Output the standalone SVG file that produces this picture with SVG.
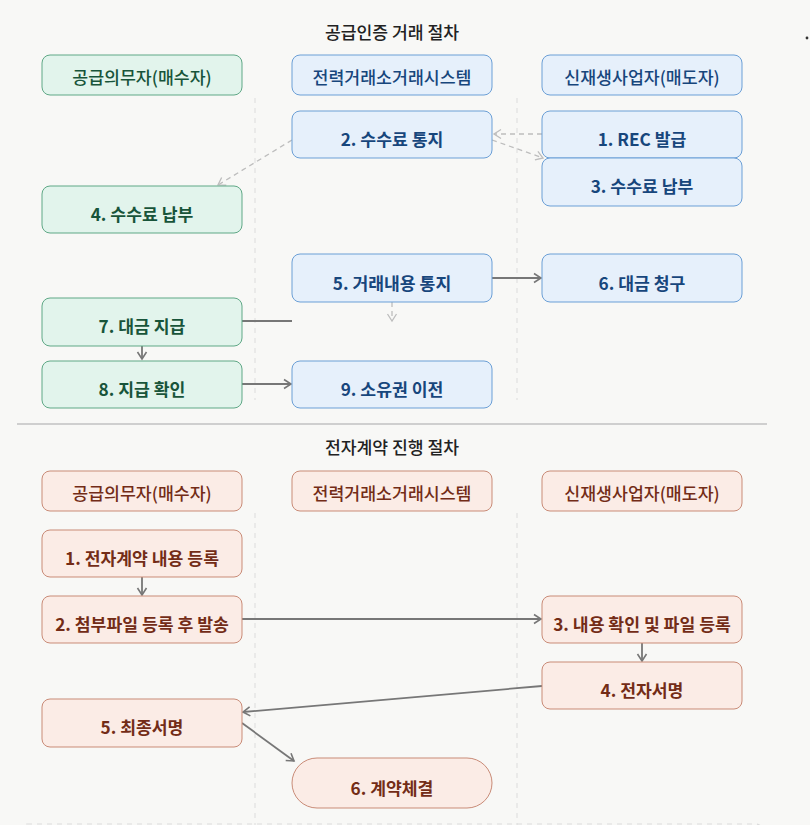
<svg xmlns="http://www.w3.org/2000/svg" width="810" height="825" viewBox="0 0 810 825">
<style>
text{font-family:"Noto Sans CJK KR","Noto Sans",sans-serif;text-anchor:middle}
.title{font-size:17.2px;font-weight:500;fill:#222}
.hd{font-size:17.3px;font-weight:500}
.lb{font-size:17.2px;font-weight:700}
.g rect{fill:#e2f4ec;stroke:#5fa886;stroke-width:1}
.g text{fill:#18543a}
.b rect{fill:#e6f0fb;stroke:#6b9fd6;stroke-width:1}
.b text{fill:#17467c}
.p rect{fill:#fbece6;stroke:#c98b77;stroke-width:1}
.p text{fill:#732c17}
.lane{stroke:#dcdcdc;stroke-width:1;stroke-dasharray:5 5;fill:none}
.sol{stroke:#777;stroke-width:1.8;fill:none}
.dsh{stroke:#bdbdbd;stroke-width:1.3;stroke-dasharray:5 4;fill:none}
</style>
<defs>
<marker id="ah" markerUnits="userSpaceOnUse" markerWidth="12" markerHeight="12" refX="9" refY="6" orient="auto">
<path d="M2,1.5 L9,6 L2,10.5" fill="none" stroke="#777" stroke-width="1.6"/>
</marker>
<marker id="ahd" markerUnits="userSpaceOnUse" markerWidth="12" markerHeight="12" refX="9" refY="6" orient="auto">
<path d="M2,1.5 L9,6 L2,10.5" fill="none" stroke="#bdbdbd" stroke-width="1.3"/>
</marker>
</defs>
<rect x="0" y="0" width="810" height="825" fill="#f8f8f6"/>
<circle cx="807" cy="38" r="1.4" fill="#333"/>

<g id="lanes">
<line class="lane" x1="255" y1="98" x2="255" y2="400"/>
<line class="lane" x1="517" y1="98" x2="517" y2="400"/>
<line class="lane" x1="255" y1="513" x2="255" y2="825"/>
<line class="lane" x1="517" y1="513" x2="517" y2="825"/>
<line x1="17" y1="424" x2="767" y2="424" stroke="#cfcfcf" stroke-width="2"/>
<rect x="21" y="824" width="741" height="40" rx="6" fill="none" stroke="#dcdcdc" stroke-width="1.2" stroke-dasharray="5 5"/>
</g>

<text class="title" x="392" y="39">공급인증 거래 절차</text>
<text class="title" x="392" y="454">전자계약 진행 절차</text>

<g id="connectors">
<line class="dsh" x1="542" y1="134" x2="494" y2="134" marker-end="url(#ahd)"/>
<line class="dsh" x1="492" y1="140" x2="543" y2="158" marker-end="url(#ahd)"/>
<line class="dsh" x1="292" y1="140" x2="218" y2="185" marker-end="url(#ahd)"/>
<line class="dsh" x1="392" y1="302" x2="392" y2="321" marker-end="url(#ahd)"/>
<line class="sol" x1="492" y1="278" x2="541" y2="278" marker-end="url(#ah)"/>
<line class="sol" x1="242" y1="321" x2="292" y2="321"/>
<line class="sol" x1="142" y1="346" x2="142" y2="359" marker-end="url(#ah)"/>
<line class="sol" x1="242" y1="384" x2="291" y2="384" marker-end="url(#ah)"/>
<line class="sol" x1="142" y1="577" x2="142" y2="595" marker-end="url(#ah)"/>
<line class="sol" x1="242" y1="619" x2="541" y2="619" marker-end="url(#ah)"/>
<line class="sol" x1="642" y1="643" x2="642" y2="661" marker-end="url(#ah)"/>
<line class="sol" x1="542" y1="686" x2="243" y2="712" marker-end="url(#ah)"/>
<line class="sol" x1="242" y1="723" x2="294" y2="761" marker-end="url(#ah)"/>
</g>

<g id="h-buyer-1" class="g"><rect x="42" y="55" width="200" height="40" rx="8"/><text class="hd" x="142" y="84">공급의무자(매수자)</text></g>
<g id="h-kpx-1" class="b"><rect x="292" y="55" width="200" height="40" rx="8"/><text class="hd" x="392" y="84">전력거래소거래시스템</text></g>
<g id="h-seller-1" class="b"><rect x="542" y="55" width="200" height="40" rx="8"/><text class="hd" x="642" y="84">신재생사업자(매도자)</text></g>

<g id="n2" class="b"><rect x="292" y="111" width="200" height="47" rx="8"/><text class="lb" x="392" y="146">2. 수수료 통지</text></g>
<g id="n1" class="b"><rect x="542" y="111" width="200" height="47" rx="8"/><text class="lb" x="642" y="146">1. REC 발급</text></g>
<g id="n3" class="b"><rect x="542" y="158" width="200" height="48" rx="8"/><text class="lb" x="642" y="193">3. 수수료 납부</text></g>
<g id="n4" class="g"><rect x="42" y="186" width="200" height="47" rx="8"/><text class="lb" x="142" y="221">4. 수수료 납부</text></g>
<g id="n5" class="b"><rect x="292" y="254" width="200" height="48" rx="8"/><text class="lb" x="392" y="290">5. 거래내용 통지</text></g>
<g id="n6" class="b"><rect x="542" y="254" width="200" height="48" rx="8"/><text class="lb" x="642" y="290">6. 대금 청구</text></g>
<g id="n7" class="g"><rect x="42" y="298" width="200" height="48" rx="8"/><text class="lb" x="142" y="333">7. 대금 지급</text></g>
<g id="n8" class="g"><rect x="42" y="361" width="200" height="47" rx="8"/><text class="lb" x="142" y="396">8. 지급 확인</text></g>
<g id="n9" class="b"><rect x="292" y="361" width="200" height="47" rx="8"/><text class="lb" x="392" y="396">9. 소유권 이전</text></g>

<g id="h-buyer-2" class="p"><rect x="42" y="471" width="200" height="40" rx="8"/><text class="hd" x="142" y="500">공급의무자(매수자)</text></g>
<g id="h-kpx-2" class="p"><rect x="292" y="471" width="200" height="40" rx="8"/><text class="hd" x="392" y="500">전력거래소거래시스템</text></g>
<g id="h-seller-2" class="p"><rect x="542" y="471" width="200" height="40" rx="8"/><text class="hd" x="642" y="500">신재생사업자(매도자)</text></g>

<g id="c1" class="p"><rect x="42" y="530" width="200" height="47" rx="8"/><text class="lb" x="142" y="565">1. 전자계약 내용 등록</text></g>
<g id="c2" class="p"><rect x="42" y="596" width="200" height="47" rx="8"/><text class="lb" x="142" y="631">2. 첨부파일 등록 후 발송</text></g>
<g id="c3" class="p"><rect x="542" y="596" width="200" height="47" rx="8"/><text class="lb" x="642" y="631">3. 내용 확인 및 파일 등록</text></g>
<g id="c4" class="p"><rect x="542" y="662" width="200" height="47" rx="8"/><text class="lb" x="642" y="697">4. 전자서명</text></g>
<g id="c5" class="p"><rect x="42" y="699" width="200" height="48" rx="8"/><text class="lb" x="142" y="734">5. 최종서명</text></g>
<g id="c6" class="p"><rect x="292" y="758" width="200" height="50" rx="25"/><text class="lb" x="392" y="795">6. 계약체결</text></g>
</svg>
